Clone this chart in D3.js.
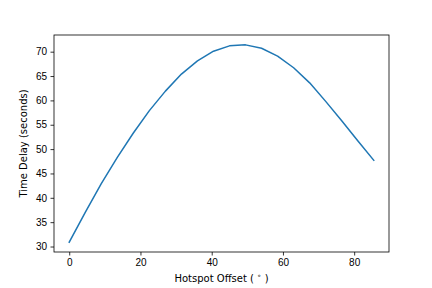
<!DOCTYPE html>
<html>
<head>
<meta charset="utf-8">
<script src="https://cdn.jsdelivr.net/npm/d3@7"></script>
<style>
  body { margin: 0; background: #fff; }
  svg { display: block; font-family: "DejaVu Sans", sans-serif; }
  .axis text { font-size: 10px; fill: #000; }
  .axis path, .axis line { stroke: #000; stroke-width: 0.8px; }
</style>
</head>
<body>
<svg id="chart" width="432" height="288"></svg>
<script>
// hotspot offset (degrees) and measured time delay (seconds)
var offsets = [0, 4.5, 9, 13.5, 18, 22.5, 27, 31.5, 36, 40.5,
               45, 49.5, 54, 58.5, 63, 67.5, 72, 76.5, 81, 85.5];
var delays = [30.9, 37.0, 42.9, 48.3, 53.3, 57.9, 61.9, 65.4, 68.1, 70.1,
              71.2, 71.4, 70.7, 69.1, 66.7, 63.6, 59.8, 55.8, 51.7, 47.7];
var xTicks = [0, 20, 40, 60, 80];
var yTicks = [30, 35, 40, 45, 50, 55, 60, 65, 70];

var svg = d3.select("#chart"),
    margin = {left: 54, right: 43, top: 35, bottom: 36},
    width = +svg.attr("width"),
    height = +svg.attr("height");

var pts = offsets.map(function(d, i) { return [d, delays[i]]; });

// matplotlib style 5% margins
var xe = d3.extent(offsets), ye = d3.extent(delays);
var xp = (xe[1] - xe[0]) * 0.05, yp = (ye[1] - ye[0]) * 0.05;

var x = d3.scaleLinear()
    .domain([xe[0] - xp, xe[1] + xp])
    .range([margin.left, width - margin.right]);
var y = d3.scaleLinear()
    .domain([ye[0] - yp, ye[1] + yp])
    .range([height - margin.bottom, margin.top]);

svg.append("path")
    .datum(pts)
    .attr("fill", "none")
    .attr("stroke", "#1f77b4")
    .attr("stroke-width", 1.5)
    .attr("stroke-linejoin", "round")
    .attr("stroke-linecap", "square")
    .attr("d", d3.line()
        .x(function(d) { return x(d[0]); })
        .y(function(d) { return y(d[1]); }));

svg.append("g")
    .attr("class", "axis")
    .attr("transform", "translate(0," + (height - margin.bottom) + ")")
    .call(d3.axisBottom(x).tickValues(xTicks).tickSize(3.5).tickPadding(3.5).tickSizeOuter(0))
    .call(function(g) { g.select(".domain").remove(); });

svg.append("g")
    .attr("class", "axis")
    .attr("transform", "translate(" + margin.left + ",0)")
    .call(d3.axisLeft(y).tickValues(yTicks).tickSize(3.5).tickPadding(3.5).tickSizeOuter(0))
    .call(function(g) { g.select(".domain").remove(); });

// frame (spines)
svg.append("rect")
    .attr("x", margin.left)
    .attr("y", margin.top)
    .attr("width", width - margin.left - margin.right)
    .attr("height", height - margin.top - margin.bottom)
    .attr("fill", "none")
    .attr("stroke", "#000")
    .attr("stroke-width", 0.8);

var xl = svg.append("text")
    .attr("x", (margin.left + width - margin.right) / 2)
    .attr("y", 282)
    .attr("text-anchor", "middle")
    .style("font-size", "10px");
xl.append("tspan").text("Hotspot Offset ( ");
xl.append("tspan").attr("dy", -4).style("font-size", "7px").text("\u2218");
xl.append("tspan").attr("dy", 4).text(" )");

svg.append("text")
    .attr("transform", "translate(27," + ((margin.top + height - margin.bottom) / 2) + ") rotate(-90)")
    .attr("text-anchor", "middle")
    .style("font-size", "10px")
    .text("Time Delay (seconds)");
</script>
</body>
</html>
